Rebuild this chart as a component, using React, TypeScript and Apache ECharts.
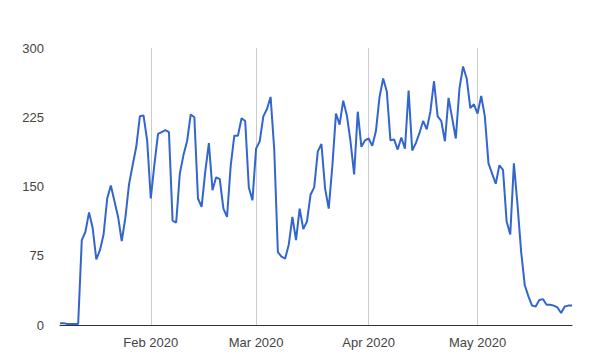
import React, { useEffect, useRef } from "react";
import * as echarts from "echarts";

// Daily values from 2020-01-07 to 2020-05-27
const startDate = "2020-01-07";
const values: number[] = [
  2, 2, 1, 1, 1, 1, 92, 101, 122, 105,
  71, 81, 98, 137, 151, 134, 117, 91, 116, 152,
  173, 193, 226, 227, 200, 137, 174, 207, 209, 211,
  209, 113, 111, 164, 184, 199, 228, 225, 137, 128,
  166, 197, 146, 160, 158, 126, 117, 172, 205, 205,
  224, 221, 149, 135, 191, 199, 226, 234, 247, 190,
  79, 74, 72, 87, 117, 92, 126, 104, 112, 141,
  149, 188, 196, 148, 126, 172, 229, 217, 243, 227,
  199, 163, 231, 193, 200, 202, 194, 210, 247, 267,
  253, 200, 201, 190, 203, 191, 254, 189, 197, 208,
  221, 212, 231, 264, 226, 221, 199, 246, 224, 202,
  256, 280, 267, 235, 239, 229, 248, 226, 175, 164,
  153, 173, 168, 112, 98, 175, 130, 79, 43, 31,
  21, 20, 27, 28, 22, 22, 21, 19, 13, 20,
  21, 21,
];
const yTicks = [0, 75, 150, 225, 300];
const monthNames = ["Jan", "Feb", "Mar", "Apr", "May", "Jun", "Jul", "Aug", "Sep", "Oct", "Nov", "Dec"];

function buildDates(): string[] {
  const out: string[] = [];
  const d0 = new Date(startDate + "T00:00:00Z");
  for (let i = 0; i < values.length; i++) {
    const d = new Date(d0.getTime() + i * 86400000);
    out.push(d.toISOString().slice(0, 10));
  }
  return out;
}

const dates = buildDates();
const isMonthStart = (s: string) => s.slice(8, 10) === "01";

export default function App() {
  const ref = useRef<HTMLDivElement>(null);
  useEffect(() => {
    if (!ref.current) return;
    const chart = echarts.init(ref.current, null, { renderer: "svg" });
    chart.setOption({
      animation: false,
      backgroundColor: "#ffffff",
      textStyle: { fontFamily: "Arial, 'Liberation Sans', sans-serif" },
      grid: { left: 60, right: 17, top: 48, bottom: 33 },
      xAxis: {
        type: "category",
        data: dates,
        boundaryGap: false,
        axisLine: { show: true, lineStyle: { color: "#333333", width: 1 } },
        axisTick: { show: false },
        axisLabel: {
          color: "#444444",
          fontSize: 13,
          margin: 11,
          interval: (_i: number, v: string) => isMonthStart(v),
          formatter: (v: string) =>
            isMonthStart(v) ? monthNames[parseInt(v.slice(5, 7), 10) - 1] + " " + v.slice(0, 4) : "",
        },
        splitLine: {
          show: true,
          interval: (_i: number, v: string) => isMonthStart(v),
          lineStyle: { color: "#cccccc", width: 1 },
        },
      },
      yAxis: {
        type: "value",
        min: yTicks[0],
        max: yTicks[yTicks.length - 1],
        interval: 75,
        axisLine: { show: false },
        axisTick: { show: false },
        splitLine: { show: false },
        axisLabel: { color: "#444444", fontSize: 13, margin: 16 },
      },
      series: [
        {
          type: "line",
          data: values,
          showSymbol: false,
          symbol: "none",
          lineStyle: { color: "#3366cc", width: 2 },
          itemStyle: { color: "#3366cc" },
        },
      ],
    });
    return () => chart.dispose();
  }, []);
  return <div ref={ref} style={{ width: 589, height: 358, position: "absolute", left: 0, top: 0 }} />;
}
